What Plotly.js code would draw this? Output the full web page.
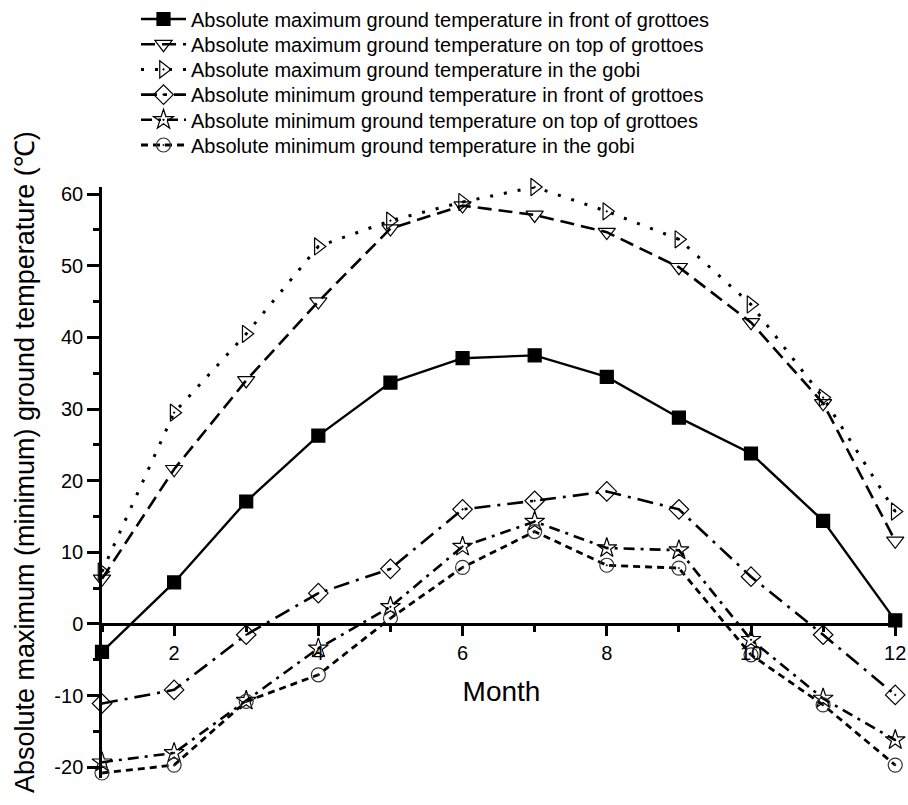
<!DOCTYPE html>
<html>
<head>
<meta charset="utf-8">
<script src="https://cdn.plot.ly/plotly-3.0.1.min.js"></script>
<style>
  html, body { margin: 0; padding: 0; background: #ffffff; }
  #chart { width: 908px; height: 805px; }
</style>
</head>
<body>
<div id="chart"></div>
<script>
// Monthly absolute ground temperatures (°C) at the grottoes site and the gobi
const months = [1, 2, 3, 4, 5, 6, 7, 8, 9, 10, 11, 12];

const maxFront = [-3.9, 5.8, 17.1, 26.3, 33.7, 37.1, 37.5, 34.5, 28.8, 23.8, 14.4, 0.5];
const maxTop   = [6.3, 21.6, 34.0, 45.0, 55.2, 58.4, 57.1, 54.7, 49.8, 42.1, 30.8, 11.6];
const maxGobi  = [7.3, 29.5, 40.5, 52.7, 56.3, 58.9, 61.0, 57.6, 53.7, 44.6, 31.6, 15.7];
const minFront = [-11.1, -9.2, -1.5, 4.3, 7.7, 16.0, 17.2, 18.5, 16.0, 6.6, -1.5, -9.9];
const minTop   = [-19.3, -18.0, -10.7, -3.4, 2.4, 10.8, 14.3, 10.6, 10.3, -2.2, -10.4, -16.2];
const minGobi  = [-20.8, -19.7, -10.8, -7.1, 0.8, 7.9, 12.9, 8.2, 7.8, -4.3, -11.3, -19.7];

const seriesNames = [
  'Absolute maximum ground temperature in front of grottoes',
  'Absolute maximum ground temperature on top of grottoes',
  'Absolute maximum ground temperature in the gobi',
  'Absolute minimum ground temperature in front of grottoes',
  'Absolute minimum ground temperature on top of grottoes',
  'Absolute minimum ground temperature in the gobi'
];

const xTickValues = [2, 4, 6, 8, 10, 12];
const xTickLabels = ['2', '4', '6', '8', '10', '12'];
const yTickValues = [-20, -10, 0, 10, 20, 30, 40, 50, 60];
const yTickLabels = ['-20', '-10', '0', '10', '20', '30', '40', '50', '60'];

const xTitle = 'Month';
const yTitle = 'Absolute maximum (minimum) ground temperature (℃)';

const FONT = 'Liberation Sans, Arial, Helvetica, sans-serif';
const INK = '#000000';

const xRange = [1, 12.08];
const yRange = [-21.5, 61];

// line / marker style per series
const styles = [
  { dash: 'solid',              width: 2.4, symbol: 'square',                  size: 13, fill: INK },
  { dash: '14px,7px',           width: 2.6, symbol: 'triangle-down-open',      size: 15, fill: INK },
  { dash: '3px,11px',           width: 3.0, symbol: 'triangle-right-open-dot', size: 15, fill: INK },
  { dash: '16px,7px,3px,7px',   width: 2.6, symbol: 'diamond-open-dot',        size: 15, fill: INK },
  { dash: '11px,6px,3px,6px',   width: 2.6, symbol: 'star-open-dot',           size: 15, fill: INK },
  { dash: '7px,5px',            width: 2.8, symbol: 'circle-open-dot',         size: 14, fill: '#333333' }
];

const values = [maxFront, maxTop, maxGobi, minFront, minTop, minGobi];
const legendIds = ['legend', 'legend2', 'legend3', 'legend4', 'legend5', 'legend6'];

const traces = values.map((v, i) => ({
  type: 'scatter',
  mode: 'lines+markers',
  x: months,
  y: v,
  name: seriesNames[i],
  legend: legendIds[i],
  cliponaxis: false,
  line: { color: INK, width: styles[i].width, dash: styles[i].dash },
  marker: {
    symbol: styles[i].symbol,
    size: styles[i].size,
    color: styles[i].fill,
    line: { color: INK, width: 1.2 }
  }
}));

// plot area in pixels
const W = 908, H = 805;
const M = { l: 102, r: 7, t: 187, b: 27, autoexpand: false };
const plotW = W - M.l - M.r;
const plotH = H - M.t - M.b;
const pxToPaperX = px => (px - M.l) / plotW;
const pxToPaperY = py => (H - M.b - py) / plotH;

const firstRowPx = 19;      // centre of the first legend row
const rowPitch = 25.2;      // distance between legend rows

const layout = {
  width: W,
  height: H,
  margin: M,
  paper_bgcolor: '#ffffff',
  plot_bgcolor: '#ffffff',
  showlegend: true,
  font: { family: FONT, color: INK, size: 20 },
  xaxis: {
    range: xRange,
    anchor: 'free',
    position: (0 - yRange[0]) / (yRange[1] - yRange[0]),
    showgrid: false,
    zeroline: false,
    showline: true,
    linecolor: INK,
    linewidth: 2.5,
    tickmode: 'array',
    tickvals: xTickValues,
    ticktext: xTickLabels,
    ticks: 'outside',
    ticklen: 10,
    tickwidth: 2.5,
    tickcolor: INK,
    tickfont: { family: FONT, size: 20, color: INK },
    minor: { tickmode: 'linear', tick0: 1, dtick: 1, ticks: 'outside', ticklen: 6, tickwidth: 2.5, tickcolor: INK },
    title: { text: xTitle, font: { family: FONT, size: 28, color: INK }, standoff: 18 }
  },
  yaxis: {
    range: yRange,
    showgrid: false,
    zeroline: false,
    showline: true,
    linecolor: INK,
    linewidth: 2.5,
    tickmode: 'array',
    tickvals: yTickValues,
    ticktext: yTickLabels,
    ticks: 'outside',
    ticklen: 12,
    tickwidth: 2.5,
    tickcolor: INK,
    tickfont: { family: FONT, size: 20, color: INK },
    minor: { tickmode: 'linear', tick0: 0, dtick: 5, ticks: 'outside', ticklen: 6, tickwidth: 2.5, tickcolor: INK }
  },
  // vertical axis caption, set a little above the plot centre
  annotations: [{
    text: yTitle,
    textangle: -90,
    xref: 'paper', yref: 'paper',
    x: pxToPaperX(25), y: pxToPaperY(462),
    xanchor: 'center', yanchor: 'middle',
    showarrow: false,
    font: { family: FONT, size: 27, color: INK }
  }]
};

// one legend block per series so the rows sit at a fixed pitch
legendIds.forEach((id, i) => {
  layout[id] = {
    x: pxToPaperX(136),
    y: pxToPaperY(firstRowPx + i * rowPitch),
    xref: 'paper',
    yref: 'paper',
    xanchor: 'left',
    yanchor: 'middle',
    bgcolor: 'rgba(0,0,0,0)',
    borderwidth: 0,
    itemwidth: 45,
    font: { family: FONT, size: 20, color: INK }
  };
});

Plotly.newPlot('chart', traces, layout, { displayModeBar: false, responsive: false });
</script>
</body>
</html>
